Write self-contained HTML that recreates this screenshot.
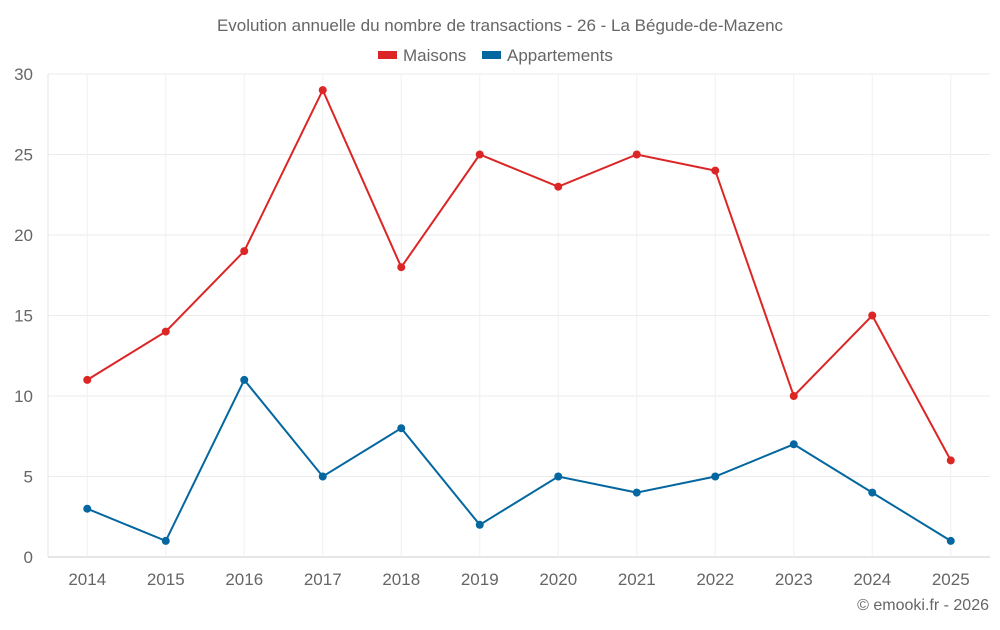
<!DOCTYPE html>
<html><head><meta charset="utf-8"><style>
body{margin:0;background:#fff;font-family:"Liberation Sans",sans-serif;}
svg text{font-family:"Liberation Sans",sans-serif;fill:#666;}
</style></head><body>
<svg id="chart" width="1000" height="625">
<text x="500" y="31" text-anchor="middle" font-size="17">Evolution annuelle du nombre de transactions - 26 - La Bégude-de-Mazenc</text>
<g>
<g><rect x="378" y="51" width="19" height="8" fill="#dc2626"/><text x="403" y="61" font-size="17">Maisons</text></g>
<g><rect x="482" y="51" width="19" height="8" fill="#0467a0"/><text x="507" y="61" font-size="17">Appartements</text></g>
</g>
<g id="grid"></g><g id="axes"></g><g id="series"></g>
<text x="989" y="610" text-anchor="end" font-size="16">© emooki.fr - 2026</text>
</svg>
<script>
const categories=["2014","2015","2016","2017","2018","2019","2020","2021","2022","2023","2024","2025"];
const maisons=[11,14,19,29,18,25,23,25,24,10,15,6];
const appartements=[3,1,11,5,8,2,5,4,5,7,4,1];
const yTicks=[0,5,10,15,20,25,30];
const NS="http://www.w3.org/2000/svg";
const L=48,R=990,T=74,B=557,yMax=30;
const step=(R-L)/categories.length;
const x=i=>L+step*(i+0.5);
const y=v=>B-(v/yMax)*(B-T);
function mk(tag,attrs,parent){const e=document.createElementNS(NS,tag);for(const k in attrs)e.setAttribute(k,attrs[k]);parent.appendChild(e);return e;}
const grid=document.getElementById('grid'),axes=document.getElementById('axes'),ser=document.getElementById('series');
yTicks.forEach(t=>{
 const l=mk('line',{x1:L,x2:R,y1:y(t),y2:y(t),stroke:t===0?'#ccc':'#ebebeb'},grid);
 
 
 const tx=mk('text',{x:33,y:y(t)+6,'text-anchor':'end','font-size':17},axes);
 tx.textContent=t;
 
 
});
categories.forEach((c,i)=>{
 const l=mk('line',{x1:x(i),x2:x(i),y1:T,y2:B,stroke:'#f0f0f0'},grid);
 
 
 const tx=mk('text',{x:x(i),y:585,'text-anchor':'middle','font-size':17},axes);
 tx.textContent=c;
 
 
});
const la=mk('line',{x1:L,x2:L,y1:T,y2:B,stroke:'#e5e5e5'},grid);


function draw(vals,color,name){
 const p=mk('polyline',{points:vals.map((v,i)=>x(i)+','+y(v)).join(' '),fill:'none',stroke:color,'stroke-width':2},ser);
 
 
 vals.forEach((v,i)=>{
  const c=mk('circle',{cx:x(i),cy:y(v),r:4,fill:color},ser);
  
  
 });
}
draw(maisons,'#dc2626','maisons');
draw(appartements,'#0467a0','appartements');
</script>
</body></html>
